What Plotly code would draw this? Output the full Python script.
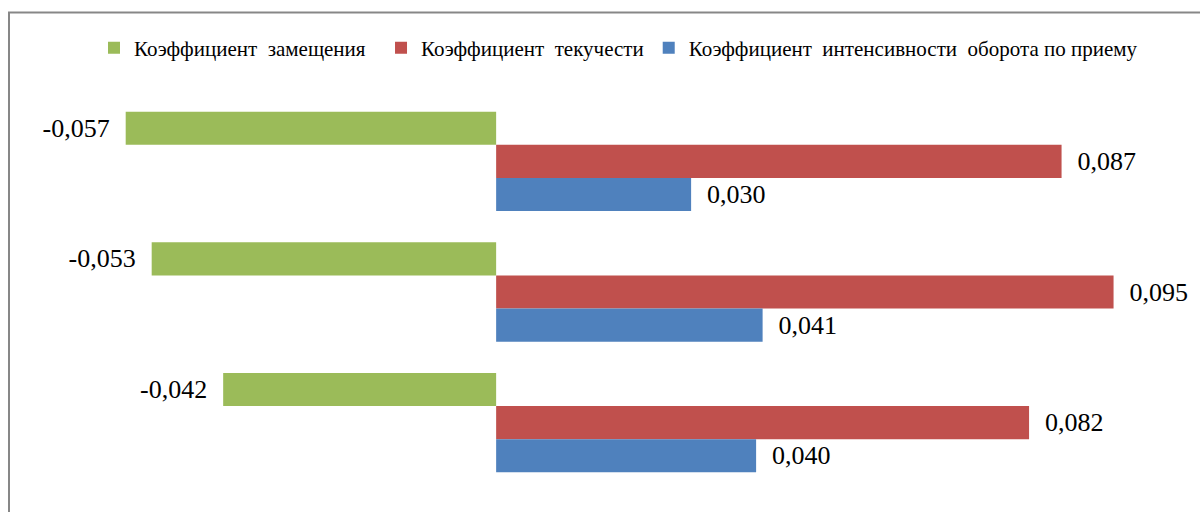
import plotly.graph_objects as go

# Three periods, each with three turnover coefficients
groups = ["Период 1", "Период 2", "Период 3"]
series_names = [
    "Коэффициент\u00a0 замещения\u00a0\u00a0",
    "Коэффициент\u00a0 текучести",
    "Коэффициент\u00a0 интенсивности\u00a0 оборота по приему",
]
replacement = [-0.057, -0.053, -0.042]
turnover = [0.087, 0.095, 0.082]
hiring = [0.030, 0.041, 0.040]

colors = ["#9BBB59", "#C0504D", "#4F81BD"]

SERIF = "Times New Roman"

W, H = 1200, 512
ML, MR, MT, MB = 10, 0, 96, 24


def fmt(v):
    s = f"{v:.3f}".replace(".", ",")
    # a little breathing room between the bar end and its label
    return s + "\u2002" if v < 0 else "\u2002" + s


fig = go.Figure()
for name, vals, col in zip(series_names, [replacement, turnover, hiring], colors):
    fig.add_trace(go.Bar(
        y=groups,
        x=vals,
        name=name,
        orientation="h",
        marker=dict(color=col, line=dict(width=0)),
        text=[fmt(v) for v in vals],
        textposition="outside",
        textfont=dict(family=SERIF, size=26, color="black"),
        constraintext="none",
        cliponaxis=False,
        hoverinfo="skip",
    ))

# light grey chart frame (top and left edges visible)
pw, ph = W - ML - MR, H - MT - MB


def px_x(p):
    return (p - ML) / pw


def px_y(p):
    return (H - MB - p) / ph


fig.add_shape(
    type="rect", xref="paper", yref="paper",
    x0=px_x(9), x1=px_x(1215), y0=px_y(530), y1=px_y(12.5),
    line=dict(color="#878787", width=2), fillcolor="rgba(0,0,0,0)", layer="above",
)

fig.update_layout(
    width=W, height=H,
    margin=dict(l=ML, r=MR, t=MT, b=MB),
    paper_bgcolor="white",
    plot_bgcolor="white",
    font=dict(family=SERIF),
    barmode="group",
    bargap=0.24,
    bargroupgap=0,
    showlegend=True,
    legend=dict(
        orientation="h",
        x=px_x(94), xanchor="left",
        y=px_y(48), yanchor="middle",
        font=dict(family=SERIF, size=21, color="black"),
        traceorder="normal",
        itemclick=False,
    ),
    xaxis=dict(
        range=[-0.0748, 0.1083],
        visible=False,
        zeroline=False,
        showgrid=False,
        fixedrange=True,
    ),
    yaxis=dict(
        autorange="reversed",
        visible=False,
        showgrid=False,
        fixedrange=True,
    ),
)

fig.write_html("out.html")
